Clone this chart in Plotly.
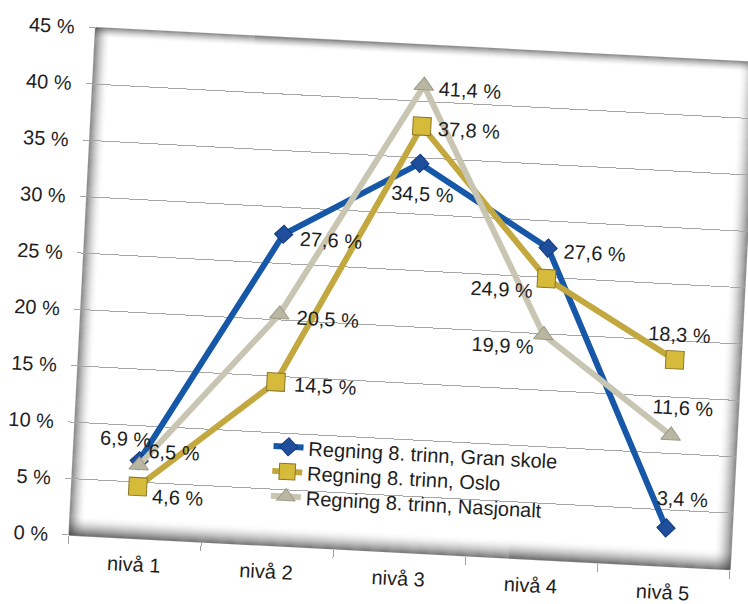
import plotly.graph_objects as go

categories = ["nivå 1", "nivå 2", "nivå 3", "nivå 4", "nivå 5"]
gran = [6.9, 27.6, 34.5, 27.6, 3.4]
oslo = [4.6, 14.5, 37.8, 24.9, 18.3]
nasjonalt = [6.5, 20.5, 41.4, 19.9, 11.6]
series_names = ["Regning 8. trinn, Gran skole", "Regning 8. trinn, Oslo", "Regning 8. trinn, Nasjonalt"]
y_ticks = [0, 5, 10, 15, 20, 25, 30, 35, 40, 45]

# label placement per point: (xanchor, xshift, yshift)
gran_lbl = [("center", -15, 21), ("left", 14, -4), ("center", 4, -30), ("left", 14, -3), ("center", 15, 30)]
oslo_lbl = [("left", 13, -9), ("left", 16, -2), ("left", 14, -2), ("right", -11, -13), ("center", 3, 25)]
nasj_lbl = [("left", 7, 15), ("left", 15, -2), ("left", 13, -2), ("right", -7, -13), ("center", 11, 28)]

FONT = "Liberation Sans, Arial, sans-serif"
TXT = "#1e1e1e"


def fmt(v):
    return f"{v:.1f}".replace(".", ",") + " %"


fig = go.Figure()

specs = [
    (gran, series_names[0], "#1657A8", dict(symbol="diamond", size=14, color="#1F4F9C",
                                              line=dict(color="#123A7A", width=1)), gran_lbl, "legend"),
    (oslo, series_names[1], "#C2A83E", dict(symbol="square", size=18, color="#D6BA3A",
                                              line=dict(color="#8A7628", width=1)), oslo_lbl, "legend2"),
    (nasjonalt, series_names[2], "#C8C6B3", dict(symbol="triangle-up", size=17, color="#B9B7A2",
                                                   line=dict(color="#9C9A86", width=1)), nasj_lbl, "legend3"),
]

annotations = []
for vals, name, col, mk, lbl, lg in specs:
    fig.add_trace(go.Scatter(
        x=categories, y=vals, name=name, mode="lines+markers",
        line=dict(color=col, width=6),
        marker=mk, legend=lg,
        cliponaxis=False,
    ))
    for c, v, (xa, xs, ys) in zip(categories, vals, lbl):
        annotations.append(dict(x=c, y=v, xref="x", yref="y", text=fmt(v), showarrow=False,
                                xanchor=xa, yanchor="middle", xshift=xs, yshift=ys,
                                font=dict(family=FONT, size=20, color=TXT)))

# plot area shadow frame (decorative)
W, H = 662.0, 508.0
shapes = []
def edge(side, n, amax):
    for i in range(n):
        a = amax * (1 - i / n) ** 2
        c = f"rgba(50,50,50,{a:.3f})"
        if side == "left":
            x0 = x1 = i / W; y0, y1 = 0, 1
        elif side == "right":
            x0 = x1 = 1 - i / W; y0, y1 = 0, 1
        elif side == "top":
            y0 = y1 = 1 - i / H; x0, x1 = 0, 1
        else:
            y0 = y1 = i / H; x0, x1 = 0, 1
        shapes.append(dict(type="line", xref="paper", yref="paper", x0=x0, x1=x1, y0=y0, y1=y1,
                           line=dict(color=c, width=1.3), layer="below"))

edge("left", 16, 0.5)
edge("top", 11, 0.5)
edge("right", 18, 0.5)
edge("bottom", 20, 0.6)

legend_common = dict(xanchor="left", yanchor="middle", bgcolor="rgba(0,0,0,0)",
                     font=dict(family=FONT, size=20, color=TXT), borderwidth=0)

fig.update_layout(
    width=748, height=604, autosize=False,
    margin=dict(l=69, r=17, t=27, b=69, pad=0),
    paper_bgcolor="white", plot_bgcolor="white",
    font=dict(family=FONT, size=20, color=TXT),
    shapes=shapes,
    annotations=annotations,
    showlegend=True,
    legend=dict(x=0.294, y=0.196, **legend_common),
    legend2=dict(x=0.294, y=0.147, **legend_common),
    legend3=dict(x=0.294, y=0.098, **legend_common),
    xaxis=dict(range=[-0.5, 4.5], showgrid=False, ticks="outside", tickson="boundaries", ticklen=8,
               tickcolor="#A0A0A0", showline=False, zeroline=False, automargin=False,
               tickfont=dict(family=FONT, size=20, color=TXT), ticklabelstandoff=12),
    yaxis=dict(range=[0, 45], tickvals=y_ticks, ticktext=[f"{t} %" for t in y_ticks],
               showgrid=True, gridcolor="#A6A6A6", gridwidth=1, zeroline=False,
               ticks="outside", ticklen=6, tickcolor="#A6A6A6", showline=False, automargin=False,
               tickfont=dict(family=FONT, size=20, color=TXT), ticklabelstandoff=10),
)

js = """
document.documentElement.style.overflow='hidden';
document.body.style.margin='0';
document.body.style.overflow='hidden';
var gd=document.getElementById('{plot_id}');
gd.style.transformOrigin='69px 535px';
gd.style.transform='rotate(3deg)';
"""

fig.write_html("out.html", post_script=js)
